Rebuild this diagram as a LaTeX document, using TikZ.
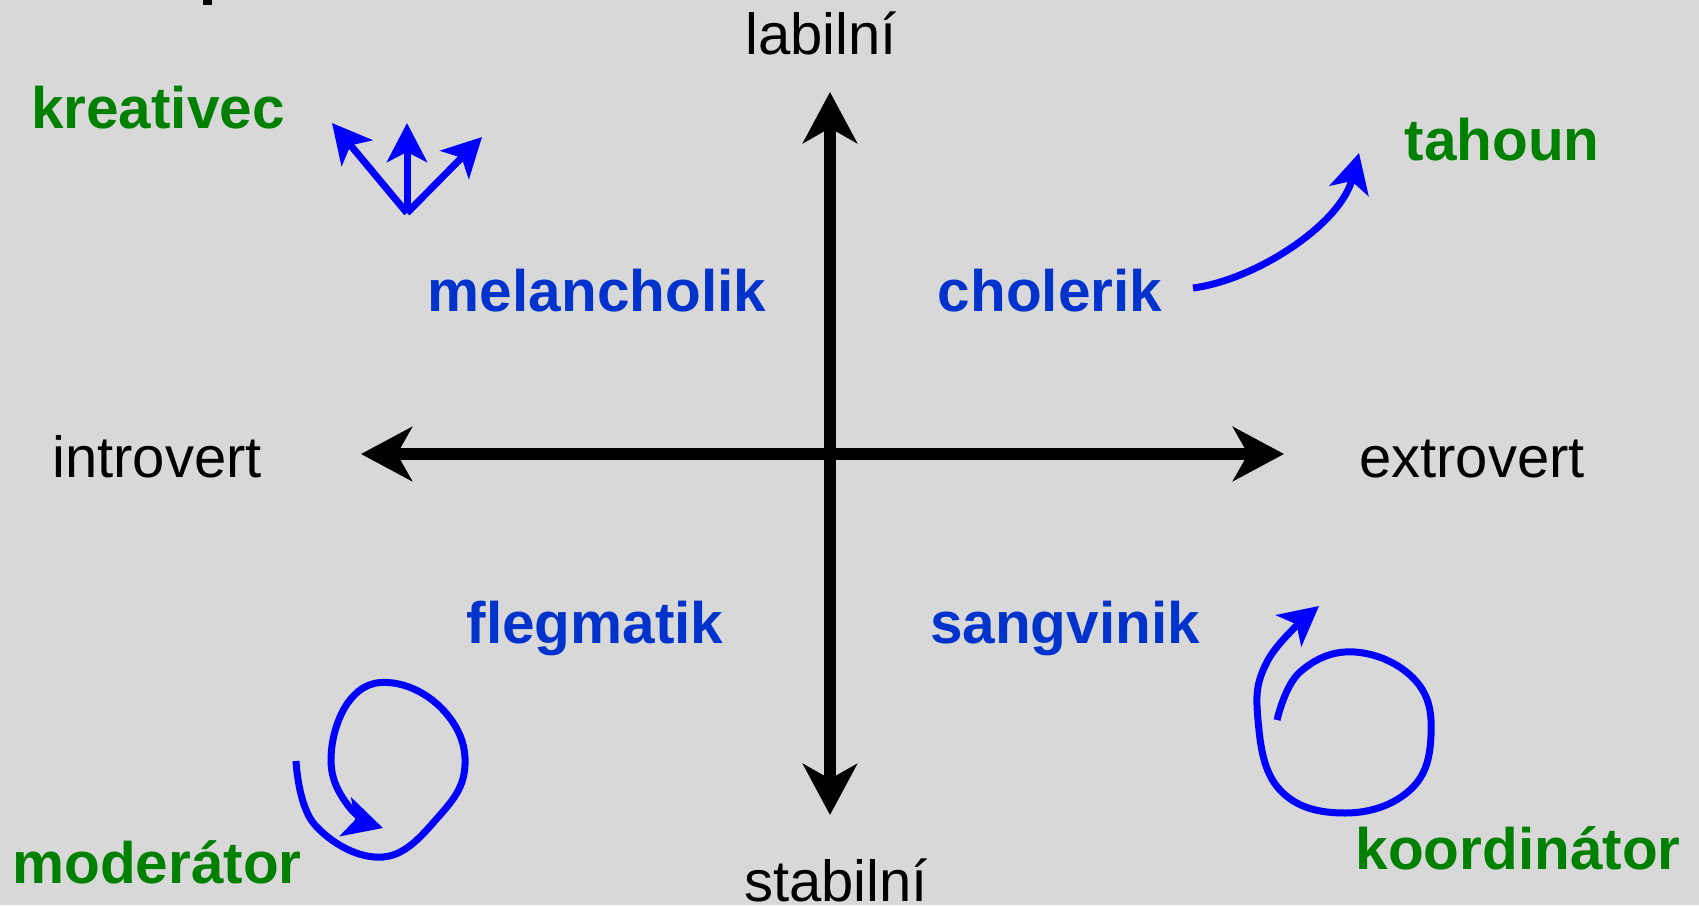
\documentclass[tikz,border=0pt]{standalone}
\usepackage{fontspec}
\setmainfont{Liberation Sans}
\usetikzlibrary{arrows.meta}
\definecolor{bg}{RGB}{216,216,216}
\definecolor{grn}{RGB}{0,128,0}
\definecolor{lblue}{RGB}{0,51,204}
\definecolor{arrblue}{RGB}{0,0,255}
\tikzset{
  lbl/.style={inner sep=0pt, anchor=base, font=\fontsize{58pt}{70pt}\selectfont, text=black},
  role/.style={lbl, font=\fontsize{58.5pt}{70pt}\selectfont\bfseries, text=grn},
  temper/.style={lbl, font=\fontsize{58.5pt}{70pt}\selectfont\bfseries, text=lblue},
  axis/.style={line width=11.5pt, black, {Stealth[length=51pt,width=54pt,inset=15pt]}-{Stealth[length=51pt,width=54pt,inset=15pt]}},
  barrow/.style={line width=7pt, arrblue, line join=round, -{Stealth[length=39pt,width=40pt,inset=10pt]}}
}
\begin{document}
\begin{tikzpicture}[x=1pt,y=-1pt]
\fill[bg] (0,0) rectangle (1699,905);
\useasboundingbox (0,0) rectangle (1699,905);
\fill[black] (203,0) rectangle (212,5);
% axes
\coordinate (T) at (830,92);
\coordinate (B) at (830,815);
\coordinate (L) at (361,454);
\coordinate (R) at (1284,454);
\draw[axis] (L) -- (R);
\draw[axis] (T) -- (B);
% axis labels
\node[lbl] (lab) at (821,54) {labilní};
\node[lbl] (sta) at (836,901) {stabilní};
\node[lbl] (intro) at (157,477) {introvert};
\node[lbl] (extro) at (1472,477) {extrovert};
% temperaments
\node[temper] (mel) at (597,311) {melancholik};
\node[temper] (cho) at (1050,311) {cholerik};
\node[temper] (fle) at (595,643) {flegmatik};
\node[temper] (san) at (1065,643) {sangvinik};
% roles
\node[role] (kre) at (158,128) {kreativec};
\node[role] (tah) at (1502,160) {tahoun};
\node[role] (mod) at (157,883) {moderátor};
\node[role] (koo) at (1518,869) {koordinátor};
% kreativec arrows
\coordinate (k0) at (407,213);
\coordinate (k1) at (332,123);
\coordinate (k2) at (407,123);
\coordinate (k3) at (482,137);
\draw[barrow] (k0) -- (k1);
\draw[barrow] (k0) -- (k2);
\draw[barrow] (k0) -- (k3);
% tahoun arrow
\coordinate (t0) at (1193,288);
\coordinate (t1) at (1359,153);
\draw[barrow] (t0) .. controls (1255,280) and (1340,225) .. (t1);
% moderator loop
\draw[barrow] plot[smooth, tension=0.7] coordinates {(296,761) (315,825) (383,857) (440,815) (465,765) (445,712) (393,683) (350,700) (331,760) (350,808) (383,828)};
% koordinator loop
\draw[barrow] plot[smooth, tension=0.7] coordinates {(1277,720) (1300,672) (1355,652) (1415,680) (1431,735) (1410,790) (1345,813) (1280,790) (1258,720) (1268,660) (1319,606)};
\end{tikzpicture}
\end{document}
